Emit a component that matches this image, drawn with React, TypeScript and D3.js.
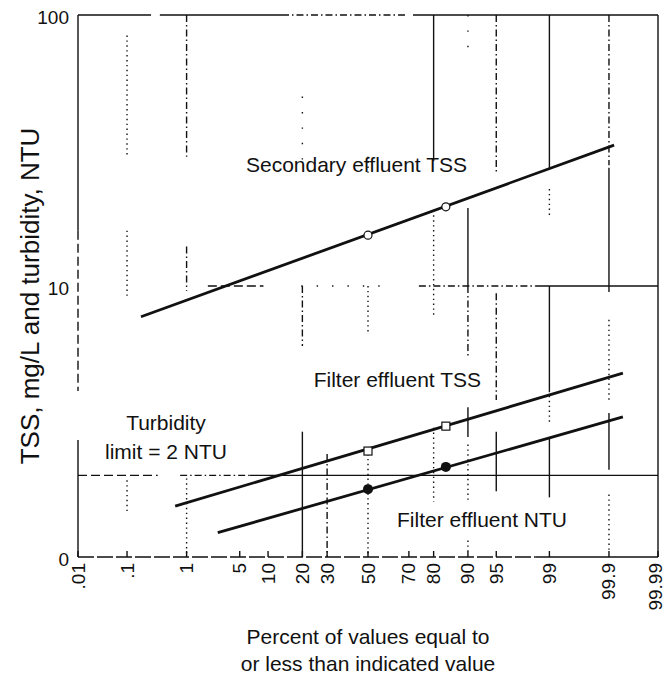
import React from 'react';
import * as d3 from 'd3';

const W = 664;
const H = 679;

// Axis ticks
const tickPercents = [0.01, 0.1, 1, 5, 10, 20, 30, 50, 70, 80, 90, 95, 99, 99.9, 99.99];
const tickLabels = ['.01', '.1', '1', '5', '10', '20', '30', '50', '70', '80', '90', '95', '99', '99.9', '99.99'];
const yTickValues = [1, 10, 100];
const yTickLabels = ['0', '10', '100'];

// Fitted lines (percent, value)
const secondaryLine = [{ p: 0.18, v: 7.7 }, { p: 99.92, v: 33.1 }];
const secondaryPoints = [{ p: 50, v: 15.4 }, { p: 84.1, v: 19.6 }];
const filterTssLine = [{ p: 0.67, v: 1.54 }, { p: 99.946, v: 4.77 }];
const filterTssPoints = [{ p: 50, v: 2.46 }, { p: 84.1, v: 3.04 }];
const filterNtuLine = [{ p: 2.7, v: 1.23 }, { p: 99.946, v: 3.29 }];
const filterNtuPoints = [{ p: 50, v: 1.78 }, { p: 84.1, v: 2.15 }];
const turbidityLimit = 2;

// Grid segments of the scanned probability paper: [percent, valueFrom, valueTo, style]
const vGrid: [number, number, number, string][] = [
  [0.01, 100, 16, 'solid'], [0.01, 16, 4.1, 'dash'], [0.01, 2.7, 1, 'solid'],
  [0.1, 84, 30, 'dot'], [0.1, 16, 9, 'dot'], [0.1, 1.92, 1.45, 'dot'],
  [1, 100, 30, 'dashdot'], [1, 14, 9.6, 'dashdot'], [1, 1.95, 1, 'dot'],
  [20, 50, 28, 'sparse'], [20, 10, 6, 'dashdot'], [20, 2.9, 1, 'solid'],
  [30, 2.4, 1, 'dashdot'],
  [50, 30, 26, 'dot'], [50, 10, 6.8, 'dot'], [50, 2.5, 1, 'dot'],
  [80, 100, 28.9, 'solid'], [80, 19, 7.6, 'dot'], [80, 3.0, 1.6, 'dot'],
  [90, 100, 70, 'sparse'], [90, 19.4, 10, 'solid'], [90, 10, 5.5, 'dashdot'], [90, 3.57, 2.77, 'solid'], [90, 2.6, 1.6, 'dot'], [90, 1.15, 1.05, 'dot'],
  [95, 100, 26.3, 'dashdot'], [95, 9.4, 3.8, 'dashdot'], [95, 2.9, 1.75, 'solid'],
  [99, 100, 27.3, 'solid'], [99, 22.8, 18.3, 'dot'], [99, 10, 4.1, 'solid'], [99, 4.1, 3.1, 'dot'], [99, 2.77, 1.66, 'solid'],
  [99.9, 100, 27.9, 'dashdot'], [99.9, 27.3, 9.5, 'solid'], [99.9, 7.5, 3.8, 'dot'], [99.9, 3.4, 2.1, 'solid'], [99.9, 1.7, 1.05, 'dot'],
  [99.99, 100, 1, 'solid'],
];
// [value, percentFrom, percentTo, style]
const hGrid: [number, number, number, string][] = [
  [100, 0.01, 0.27, 'solid'], [100, 0.38, 13.5, 'solid'], [100, 13.5, 68.7, 'dashdot'], [100, 71.8, 99.99, 'solid'],
  [10, 2, 9, 'dash'], [10, 19.6, 61.5, 'sparse'], [10, 74.3, 98.4, 'dashdot'], [10, 98.4, 99.99, 'solid'],
  [2, 0.01, 0.35, 'dash'], [2, 0.8, 6.5, 'dashdot'], [2, 6.5, 99.99, 'solid'],
  [1, 0.01, 98.4, 'longdash'], [1, 98.4, 99.99, 'solid'],
];

const dashes: Record<string, string | undefined> = {
  solid: undefined,
  dot: '1.4 3.5',
  sparse: '1.4 14',
  dashdot: '7 3 1.5 3',
  dash: '9 4',
  longdash: '16 3',
};

function probit(p: number): number {
  const a = [-3.969683028665376e1, 2.209460984245205e2, -2.759285104469687e2, 1.38357751867269e2, -3.066479806614716e1, 2.506628277459239];
  const b = [-5.447609879822406e1, 1.615858368580409e2, -1.556989798598866e2, 6.680131188771972e1, -1.328068155288572e1];
  const c = [-7.784894002430293e-3, -3.223964580411365e-1, -2.400758277161838, -2.549732539343734, 4.374664141464968, 2.938163982698783];
  const d = [7.784695709041462e-3, 3.224671290700398e-1, 2.445134137142996, 3.754408661907416];
  const pl = 0.02425;
  if (p < pl) {
    const q = Math.sqrt(-2 * Math.log(p));
    return (((((c[0] * q + c[1]) * q + c[2]) * q + c[3]) * q + c[4]) * q + c[5]) / ((((d[0] * q + d[1]) * q + d[2]) * q + d[3]) * q + 1);
  }
  if (p <= 1 - pl) {
    const q = p - 0.5;
    const r = q * q;
    return ((((((a[0] * r + a[1]) * r + a[2]) * r + a[3]) * r + a[4]) * r + a[5]) * q) / (((((b[0] * r + b[1]) * r + b[2]) * r + b[3]) * r + b[4]) * r + 1);
  }
  const q = Math.sqrt(-2 * Math.log(1 - p));
  return -(((((c[0] * q + c[1]) * q + c[2]) * q + c[3]) * q + c[4]) * q + c[5]) / ((((d[0] * q + d[1]) * q + d[2]) * q + d[3]) * q + 1);
}

const L = 78, R = 658, T = 15, B = 557;
const zScale = d3.scaleLinear().domain([probit(0.0001), probit(0.9999)]).range([L, R]);
const x = (pct: number) => zScale(probit(pct / 100));
const y = d3.scaleLog().domain([1, 100]).range([B, T]);

const FONT = '"Liberation Sans", Arial, Helvetica, sans-serif';
const INK = '#111';

export default function App() {
  const line = d3.line<{ p: number; v: number }>().x(d => x(d.p)).y(d => y(d.v));
  return (
    <svg width={W} height={H} style={{ position: 'absolute', left: 0, top: 0, background: '#fff' }} fontFamily={FONT}>
      <rect x={0} y={0} width={W} height={H} fill="#fff" />
      {vGrid.map(([p, v1, v2, s], i) => (
        <line key={'v' + i} x1={x(p)} x2={x(p)} y1={y(v1)} y2={y(v2)} stroke={INK} strokeWidth={1.4} strokeDasharray={dashes[s]} />
      ))}
      {hGrid.map(([v, p1, p2, s], i) => (
        <line key={'h' + i} x1={x(p1)} x2={x(p2)} y1={y(v)} y2={y(v)} stroke={INK} strokeWidth={1.4} strokeDasharray={dashes[s]} />
      ))}
      {tickPercents.map((p, i) => (
        <line key={'t' + i} x1={x(p)} x2={x(p)} y1={B} y2={B - 6} stroke={INK} strokeWidth={1.4} />
      ))}
      {tickPercents.map((p, i) => (
        <text key={'tl' + i} transform={`translate(${Math.min(x(p), 655)},${B + 6}) rotate(-90)`} textAnchor="end" dominantBaseline="central" fontSize={19} fill={INK}>
          {tickLabels[i]}
        </text>
      ))}
      {yTickValues.map((v, i) => (
        <text key={'yl' + i} x={69} y={y(v) + 2} textAnchor="end" dominantBaseline="central" fontSize={19} fill={INK}>
          {yTickLabels[i]}
        </text>
      ))}
      {/* fitted lines */}
      <path d={line(secondaryLine) || ''} fill="none" stroke={INK} strokeWidth={2.8} />
      <path d={line(filterTssLine) || ''} fill="none" stroke={INK} strokeWidth={2.8} />
      <path d={line(filterNtuLine) || ''} fill="none" stroke={INK} strokeWidth={2.8} />
      {secondaryPoints.map((d, i) => (
        <circle key={'sp' + i} cx={x(d.p)} cy={y(d.v)} r={4} fill="#fff" stroke={INK} strokeWidth={1.2} />
      ))}
      {filterTssPoints.map((d, i) => (
        <rect key={'fp' + i} x={x(d.p) - 4} y={y(d.v) - 4} width={8} height={8} fill="#fff" stroke={INK} strokeWidth={1.2} />
      ))}
      {filterNtuPoints.map((d, i) => (
        <circle key={'np' + i} cx={x(d.p)} cy={y(d.v)} r={5} fill={INK} />
      ))}
      {/* annotations */}
      <text x={467} y={172} textAnchor="end" fontSize={21} fill={INK}>Secondary effluent TSS</text>
      <text x={481} y={387} textAnchor="end" fontSize={21} fill={INK}>Filter effluent TSS</text>
      <text x={567} y={527} textAnchor="end" fontSize={21} fill={INK}>Filter effluent NTU</text>
      <text x={166} y={430} textAnchor="middle" fontSize={21} fill={INK}>Turbidity</text>
      <text x={166} y={459} textAnchor="middle" fontSize={21} fill={INK}>limit = {turbidityLimit} NTU</text>
      <text x={368} y={644} textAnchor="middle" fontSize={21} fill={INK}>Percent of values equal to</text>
      <text x={368} y={671} textAnchor="middle" fontSize={21} fill={INK}>or less than indicated value</text>
      <text transform={`translate(30,296) rotate(-90)`} textAnchor="middle" dominantBaseline="central" fontSize={26} fill={INK}>
        TSS, mg/L and turbidity, NTU
      </text>
    </svg>
  );
}
